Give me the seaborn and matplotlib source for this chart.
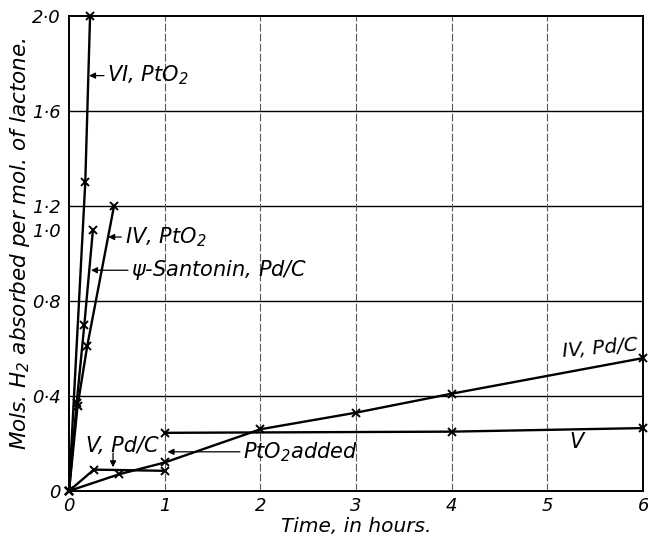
import numpy as np
import pandas as pd
import matplotlib
matplotlib.use("Agg")
import matplotlib.pyplot as plt
import seaborn as sns
from matplotlib.transforms import blended_transform_factory

sns.set_style("white")
plt.rcParams['font.family'] = ['DejaVu Sans']
plt.rcParams['font.style'] = 'italic'
plt.rcParams['text.color'] = 'black'
plt.rcParams['axes.labelcolor'] = 'black'
plt.rcParams['xtick.color'] = 'black'
plt.rcParams['ytick.color'] = 'black'

# --- data (time in hours, mols H2 per mol lactone) ---
vi_pto2_t = [0, 0.17, 0.22]
vi_pto2_h = [0, 1.30, 2.00]

santonin_t = [0, 0.08, 0.16, 0.25]
santonin_h = [0, 0.37, 0.70, 1.10]

iv_pto2_t = [0, 0.09, 0.19, 0.47]
iv_pto2_h = [0, 0.36, 0.61, 1.20]

iv_pdc_t = [0, 0.52, 1.0, 2.0, 3.0, 4.0, 6.0]
iv_pdc_h = [0, 0.07, 0.12, 0.26, 0.33, 0.41, 0.56]

v_pdc_t = [0, 0.26, 1.0]
v_pdc_h = [0, 0.09, 0.085]

v_pto2_t = [1.0, 4.0, 6.0]
v_pto2_h = [0.245, 0.25, 0.265]

x_ticks = [0, 1, 2, 3, 4, 5, 6]
x_labels = ["0", "1", "2", "3", "4", "5", "6"]
y_ticks = [0, 0.4, 0.8, 1.2, 1.6, 2.0]
y_labels = ["0", "0·4", "0·8", "1·2", "1·6", "2·0"]

fig = plt.figure(figsize=(6.48, 5.37), dpi=100)
ax = fig.add_axes([0.1065, 0.0857, 0.886, 0.884])

# grid
for yv in [0.4, 0.8, 1.2, 1.6]:
    ax.axhline(yv, color="black", lw=1.0, zorder=1)
for xv in [1, 2, 3, 4, 5]:
    ax.axvline(xv, color="0.35", lw=0.8, ls=(0, (7, 2)), zorder=1)

series = [
    (vi_pto2_t, vi_pto2_h),
    (santonin_t, santonin_h),
    (iv_pto2_t, iv_pto2_h),
    (iv_pdc_t, iv_pdc_h),
    (v_pdc_t, v_pdc_h),
    (v_pto2_t, v_pto2_h),
]
for t, h in series:
    df = pd.DataFrame({"t": t, "h": h})
    sns.lineplot(data=df, x="t", y="h", ax=ax, sort=False, estimator=None,
                 color="black", lw=1.7, marker="x", markersize=6,
                 markeredgewidth=1.4, markeredgecolor="black",
                 markerfacecolor="black", zorder=3, clip_on=False)

ax.set_xlim(0, 6)
ax.set_ylim(0, 2.0)
ax.set_xticks(x_ticks)
ax.set_xticklabels(x_labels, fontsize=13, style="italic")
ax.set_yticks(y_ticks)
ax.set_yticklabels(y_labels, fontsize=13, style="italic")
ax.tick_params(axis="y", length=0, pad=6)
ax.tick_params(axis="x", length=0, pad=4)
ax.text(-0.0145, 1.09, "1·0", transform=blended_transform_factory(ax.transAxes, ax.transData),
        ha="right", va="center", fontsize=13, style="italic")
for s in ax.spines.values():
    s.set_color("black")
    s.set_linewidth(1.4)

ax.set_xlabel("Time, in hours.", fontsize=14.5, style="italic")
ax.xaxis.set_label_coords(0.5, -0.054)
ax.set_ylabel("Mols. H$_2$ absorbed per mol. of lactone.", fontsize=15.5, style="italic")
ax.yaxis.set_label_coords(-0.064, 0.52)

arrow = dict(arrowstyle="-|>", color="black", lw=0.9, mutation_scale=9, shrinkA=0, shrinkB=0)
fs = 15
ax.annotate("VI, PtO$_2$", xy=(0.21, 1.75), xytext=(0.40, 1.75), fontsize=fs,
            va="center", ha="left", arrowprops=arrow)
ax.annotate("IV, PtO$_2$", xy=(0.41, 1.07), xytext=(0.58, 1.07), fontsize=fs,
            va="center", ha="left", arrowprops=arrow)
ax.annotate("$\\psi$-Santonin, Pd/C", xy=(0.23, 0.93), xytext=(0.65, 0.93), fontsize=fs,
            va="center", ha="left", arrowprops=arrow)
ax.annotate("PtO$_2$added", xy=(1.03, 0.165), xytext=(1.82, 0.165), fontsize=fs,
            va="center", ha="left", arrowprops=arrow)
ax.annotate("", xy=(0.46, 0.10), xytext=(0.46, 0.16), arrowprops=arrow)
ax.text(0.18, 0.19, "V, Pd/C", fontsize=fs, va="center", ha="left")
ax.text(5.95, 0.60, "IV, Pd/C", fontsize=14.5, va="center", ha="right", rotation=5)
ax.text(5.3, 0.205, "V", fontsize=fs, va="center", ha="center")

fig.savefig("out.png", dpi=100, facecolor="white")
